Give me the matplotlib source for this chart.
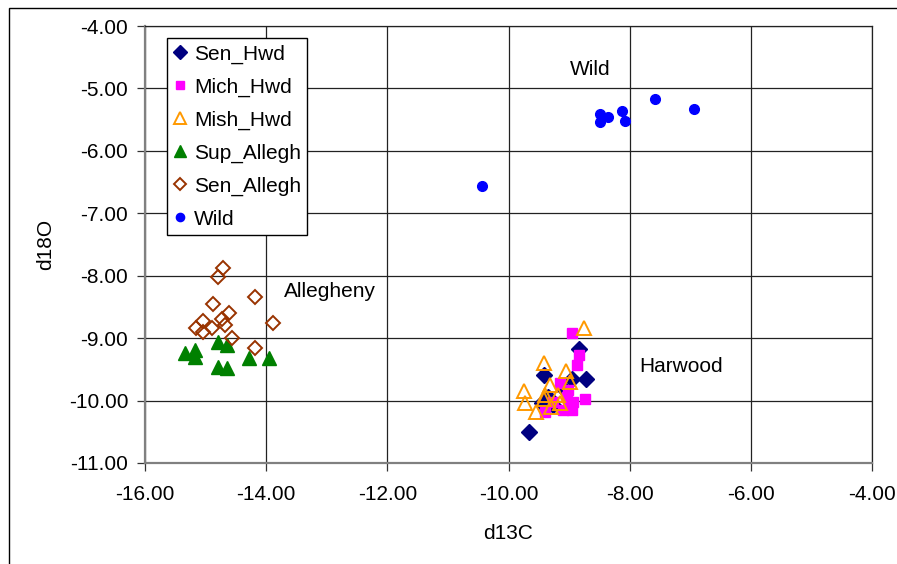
import matplotlib
matplotlib.use("Agg")
import matplotlib.pyplot as plt
from matplotlib.patches import Rectangle

plt.rcParams["font.family"] = ["Liberation Sans", "DejaVu Sans"]

# d13C / d18O values
sen_hwd_x = [-8.83, -9.42, -8.72, -8.95, -9.10, -9.45, -9.27, -9.66, -9.35]
sen_hwd_y = [-9.17, -9.59, -9.65, -9.66, -9.80, -10.04, -10.07, -10.51, -9.95]

mich_hwd_x = [-8.96, -8.84, -8.87, -8.74, -8.93, -8.96, -9.40, -9.10, -9.04, -9.15, -9.01, -9.26, -9.00]
mich_hwd_y = [-8.91, -9.27, -9.43, -9.97, -10.02, -10.15, -10.18, -10.15, -9.94, -9.72, -9.83, -10.02, -10.08]

mish_hwd_x = [-8.75, -9.42, -9.05, -8.99, -9.31, -9.74, -9.72, -9.40, -9.18, -9.42, -9.15, -9.55, -9.30]
mish_hwd_y = [-8.83, -9.40, -9.52, -9.71, -9.75, -9.84, -10.04, -9.91, -9.91, -9.98, -10.04, -10.18, -10.10]

sup_allegh_x = [-15.34, -15.17, -15.17, -14.79, -14.65, -14.79, -14.65, -14.29, -13.96]
sup_allegh_y = [-9.24, -9.19, -9.30, -9.06, -9.11, -9.46, -9.48, -9.32, -9.32]

sen_allegh_x = [-14.71, -14.79, -14.18, -14.88, -14.62, -13.88, -14.73, -15.04, -14.68, -15.15, -14.90, -15.04, -14.57, -14.18]
sen_allegh_y = [-7.87, -8.02, -8.34, -8.46, -8.59, -8.75, -8.69, -8.72, -8.79, -8.84, -8.84, -8.90, -9.00, -9.15]

wild_x = [-10.43, -8.49, -8.49, -8.35, -8.13, -8.07, -7.58, -6.94]
wild_y = [-6.56, -5.41, -5.54, -5.46, -5.36, -5.52, -5.17, -5.33]

W, H = 897, 564
FS = 15
fig = plt.figure(figsize=(W / 100, H / 100), dpi=100)
ax = fig.add_axes([145 / W, 1 - 463 / H, (872 - 145) / W, (463 - 26) / H])

ax.plot(sen_hwd_x, sen_hwd_y, "D", ms=8, color="#000080", mec="#000080", ls="none", label="Sen_Hwd")
ax.plot(mich_hwd_x, mich_hwd_y, "s", ms=6.8, color="#FF00FF", mec="#FF00FF", ls="none", label="Mich_Hwd")
ax.plot(mish_hwd_x, mish_hwd_y, "^", ms=9.5, mfc="none", mec="#FF9900", mew=1.4, ls="none", label="Mish_Hwd")
ax.plot(sup_allegh_x, sup_allegh_y, "^", ms=9.5, color="#008000", mec="#008000", ls="none", label="Sup_Allegh")
ax.plot(sen_allegh_x, sen_allegh_y, "D", ms=7.3, mfc="none", mec="#993300", mew=1.4, ls="none", label="Sen_Allegh")
ax.plot(wild_x, wild_y, "o", ms=7, color="#0000FF", mec="#0000FF", ls="none", label="Wild")

ax.set_xlim(-16, -4)
ax.set_ylim(-11, -4)
ax.set_xticks([-16, -14, -12, -10, -8, -6, -4])
ax.set_yticks([-11, -10, -9, -8, -7, -6, -5, -4])
ax.xaxis.set_major_formatter(lambda v, p: f"{v:.2f}")
ax.yaxis.set_major_formatter(lambda v, p: f"{v:.2f}")
ax.grid(True, color="#222222", lw=0.9)
ax.set_axisbelow(True)
ax.tick_params(direction="out", length=6, width=0.9, color="#333333", labelsize=FS)
ax.tick_params(axis="x", pad=10)
ax.tick_params(axis="y", pad=6)
for s in ["left", "bottom"]:
    ax.spines[s].set_color("#808080")
    ax.spines[s].set_linewidth(1.6)
for s in ["top", "right"]:
    ax.spines[s].set_color("#222222")
    ax.spines[s].set_linewidth(0.9)

ax.set_xlabel("d13C", fontsize=FS, labelpad=14)
ax.set_ylabel("d18O", fontsize=FS, labelpad=10)

ax.text(-8.65, -4.70, "Wild", fontsize=FS, ha="center", va="center")
ax.text(-12.95, -8.245, "Allegheny", fontsize=FS, ha="center", va="center")
ax.text(-7.15, -9.46, "Harwood", fontsize=FS, ha="center", va="center")

leg = ax.legend(loc="upper left", bbox_to_anchor=(166.7 / W, 1 - 38.3 / H),
                bbox_transform=fig.transFigure, fontsize=FS, fancybox=False,
                edgecolor="black", framealpha=1, borderaxespad=0,
                handlelength=0.7, handletextpad=0.3, labelspacing=0.66,
                borderpad=0.3, markerscale=0.85)
leg.get_frame().set_linewidth(1.0)

# outer frame of the chart area
fig.add_artist(Rectangle((9 / W, -0.05), 1.0, 1 - 8 / H + 0.05, transform=fig.transFigure,
                         fill=False, edgecolor="black", lw=1.0, clip_on=False))

fig.savefig("out.png", dpi=100)
